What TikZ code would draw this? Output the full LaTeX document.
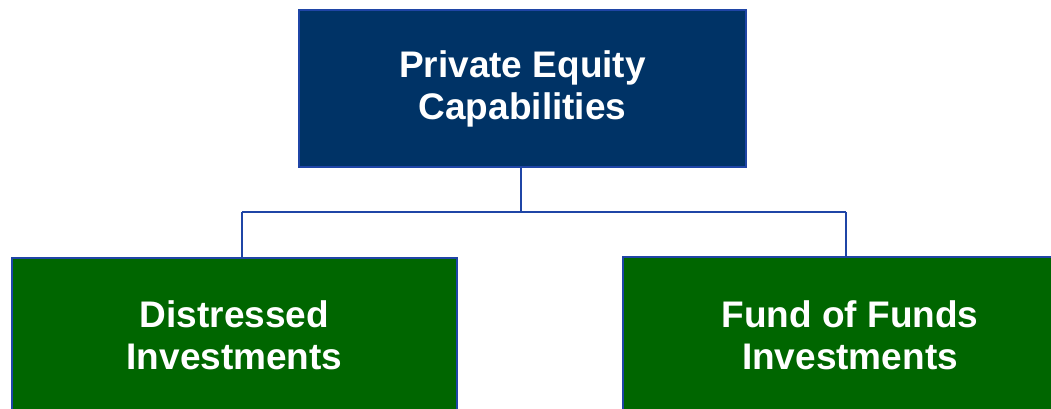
\documentclass[tikz,border=0pt]{standalone}
\usepackage{fontspec}
\setmainfont{Liberation Sans}
\definecolor{navyfill}{HTML}{003366}
\definecolor{greenfill}{HTML}{006600}
\definecolor{edgeblue}{HTML}{1F45A6}
\begin{document}
\begin{tikzpicture}[x=1pt,y=1pt,
  box/.style={draw=edgeblue, line width=1.3pt, text=white, align=center,
    font=\fontsize{37}{42}\selectfont\bfseries, inner sep=0pt},
  link/.style={draw=edgeblue, line width=1.3pt}]
\useasboundingbox (0,0) rectangle (1051,-409);
\clip (0,0) rectangle (1051,-409);
% parent box
\node[box, fill=navyfill, minimum width=447pt, minimum height=157pt] (top) at (522.5,-88.5)
  {Private Equity\\Capabilities};
% child boxes, running past the lower edge
\node[box, fill=greenfill, minimum width=445pt, minimum height=154pt] (dist) at (234.5,-335)
  {Distressed\\Investments};
\node[box, fill=greenfill, minimum width=454pt, minimum height=156pt] (fof) at (850,-335)
  {Fund of Funds\\Investments};
% tree connector
\coordinate (bar) at (521,-212);
\coordinate (barL) at (242,-212);
\coordinate (barR) at (846,-212);
\draw[link] (top.south -| bar) -- (bar);
\draw[link] (barL) -- (barR);
\draw[link] (dist.north -| barL) -- (barL);
\draw[link] (fof.north -| barR) -- (barR);
\end{tikzpicture}
\end{document}
